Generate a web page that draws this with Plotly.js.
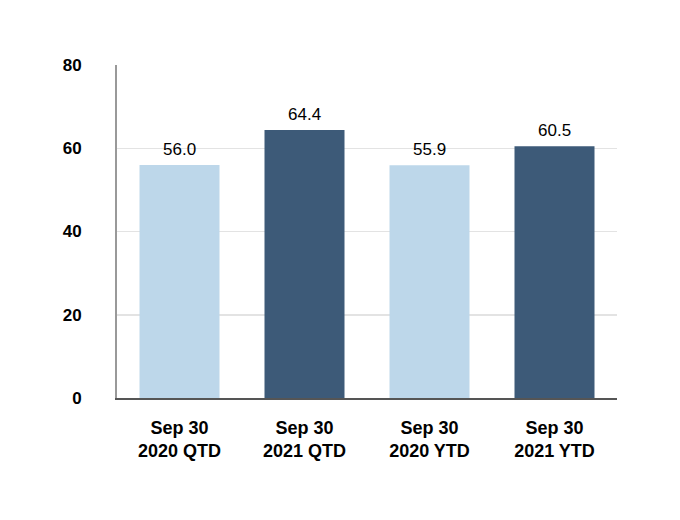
<!DOCTYPE html>
<html>
<head>
<meta charset="utf-8">
<script src="https://cdn.plot.ly/plotly-3.0.1.min.js"></script>
<style>html,body{margin:0;padding:0;background:#fff;}#chart{width:680px;height:520px;}</style>
</head>
<body>
<div id="chart"></div>
<script>
var categories = ["Sep 30<br>2020 QTD", "Sep 30<br>2021 QTD", "Sep 30<br>2020 YTD", "Sep 30<br>2021 YTD"];
var values = [56.0, 64.4, 55.9, 60.5];
var valueLabels = ["56.0", "64.4", "55.9", "60.5"];
var barColors = ["#BDD7EA", "#3D5A78", "#BDD7EA", "#3D5A78"];
var yTicks = [0, 20, 40, 60, 80];

var trace = {
  type: "bar",
  x: categories,
  y: values,
  marker: {color: barColors},
  width: 0.64,
  hoverinfo: "none"
};

var annotations = categories.map(function (c, i) {
  return {
    x: c, y: values[i], xref: "x", yref: "y",
    text: valueLabels[i], showarrow: false,
    yanchor: "bottom", yshift: 4,
    font: {family: "Liberation Sans, Arial, sans-serif", size: 17, color: "#000"}
  };
});

var layout = {
  width: 680, height: 520,
  margin: {l: 117, r: 63, t: 65, b: 122},
  paper_bgcolor: "#fff", plot_bgcolor: "#fff",
  showlegend: false,
  font: {family: "Liberation Sans, Arial, sans-serif", color: "#000"},
  annotations: annotations,
  xaxis: {
    showline: true, linecolor: "#555", linewidth: 2,
    showgrid: false, ticks: "",
    tickfont: {size: 18, weight: "bold", color: "#000"},
    ticklabelstandoff: 12
  },
  yaxis: {
    range: [0, 80],
    tickvals: yTicks,
    showline: true, linecolor: "#999", linewidth: 2,
    showgrid: true, gridcolor: "#e3e3e3", gridwidth: 1.5,
    zeroline: false, ticks: "",
    tickfont: {size: 17, weight: "bold", color: "#000"},
    ticklabelstandoff: 30
  }
};

Plotly.newPlot("chart", [trace], layout, {staticPlot: true});
</script>
</body>
</html>
